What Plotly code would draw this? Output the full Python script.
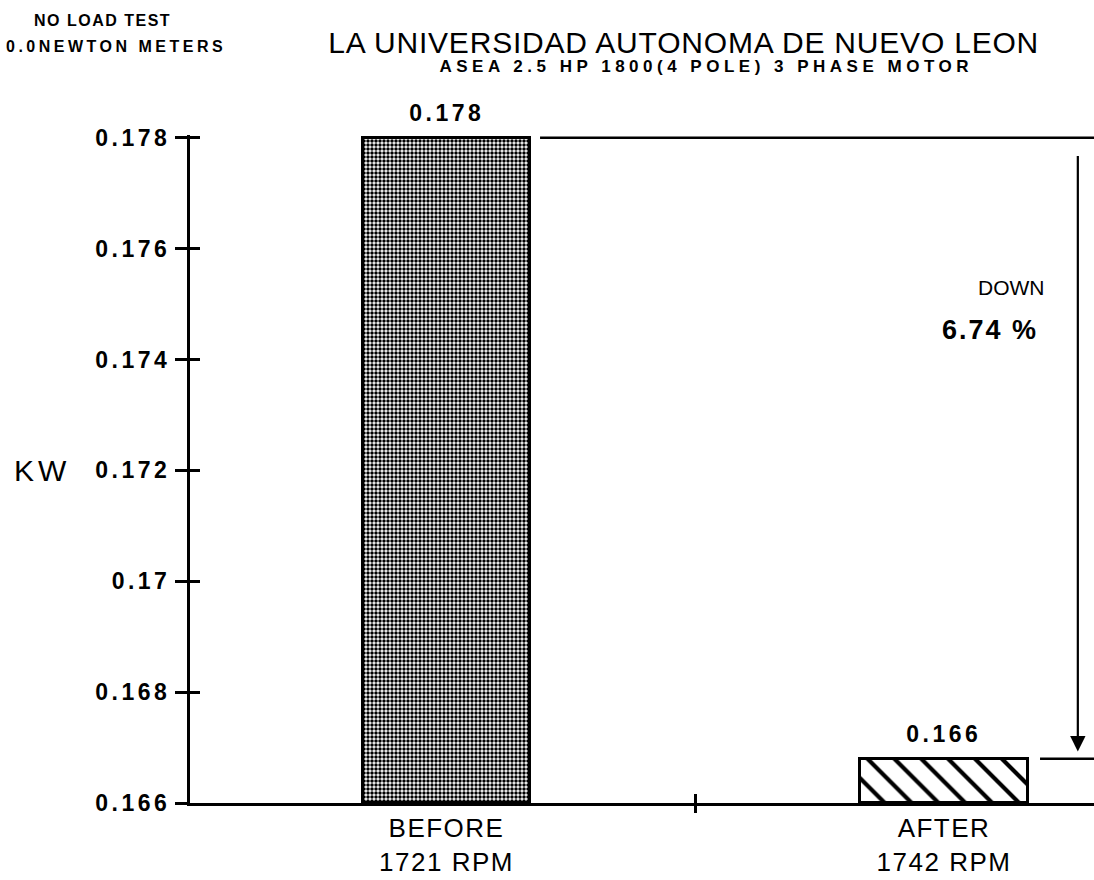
import plotly.graph_objects as go

# ---------------- data ----------------
categories = ["BEFORE", "AFTER"]
rpm_labels = ["1721 RPM", "1742 RPM"]
kw_values = [0.178, 0.1668]
value_labels = ["0.178", "0.166"]
y_ticks = [0.166, 0.168, 0.170, 0.172, 0.174, 0.176, 0.178]
y_tick_labels = ["0.166", "0.168", "0.17", "0.172", "0.174", "0.176", "0.178"]
change_words = ["DOWN", "6.74 %"]
title_text = "LA UNIVERSIDAD AUTONOMA DE NUEVO LEON"
subtitle_text = "ASEA 2.5 HP 1800(4 POLE) 3 PHASE MOTOR"
corner_texts = ["NO LOAD TEST", "0.0NEWTON METERS"]
y_axis_title = "KW"

# ---------------- layout geometry ----------------
W, H = 1094, 880
ML, MR, MT, MB = 190, 0, 135, 77
PW, PH = W - ML - MR, H - MT - MB
x_pos = [0, 1]
bar_w = 0.336
x_range = [-0.5156, 1.3015]
y_range = [0.166, 0.17805]
FONT = "Liberation Sans, Arial, Helvetica, sans-serif"


def px(xp):
    return (xp - ML) / PW


def py(yp):
    return (H - MB - yp) / PH


fig = go.Figure()

fig.add_trace(go.Bar(
    x=x_pos, y=[v - y_range[0] for v in kw_values], base=y_range[0],
    width=bar_w,
    marker=dict(
        color="white",
        line=dict(color="black", width=3),
        pattern=dict(shape=[".", "\\"], fgcolor="black", bgcolor="white",
                     size=[4, 19], solidity=[0.6, 0.22], fillmode="replace"),
    ),
    cliponaxis=False, hoverinfo="skip", showlegend=False,
))
# empty traces to activate the overlay axes (ticks crossing the axis lines)
fig.add_trace(go.Scatter(x=[], y=[], xaxis="x2", yaxis="y2", showlegend=False))
fig.add_trace(go.Scatter(x=[], y=[], xaxis="x3", yaxis="y", showlegend=False))

fig.update_layout(
    width=W, height=H,
    margin=dict(l=ML, r=MR, t=MT, b=MB, pad=0),
    paper_bgcolor="white", plot_bgcolor="white",
    font=dict(family=FONT, color="black"),
    bargap=0,
    xaxis=dict(range=x_range, tickvals=x_pos,
               ticktext=[f"{c}<br>{r}" for c, r in zip(categories, rpm_labels)],
               ticks="", showline=True, linewidth=3, linecolor="black",
               showgrid=False, zeroline=False, fixedrange=True,
               tickfont=dict(size=26, family=FONT, color="black")),
    xaxis2=dict(range=x_range, overlaying="x", anchor="y", side="bottom",
                tickvals=[sum(x_pos) / 2], ticks="inside", ticklen=9, tickwidth=2.5,
                tickcolor="black", showticklabels=False, showline=False,
                showgrid=False, zeroline=False, fixedrange=True),
    xaxis3=dict(range=x_range, overlaying="x", anchor="y", side="bottom",
                tickvals=[sum(x_pos) / 2], ticks="outside", ticklen=9, tickwidth=2.5,
                tickcolor="black", showticklabels=False, showline=False,
                showgrid=False, zeroline=False, fixedrange=True),
    yaxis=dict(range=y_range, tickvals=y_ticks, ticktext=y_tick_labels,
               ticks="outside", ticklen=12, tickwidth=2.5, tickcolor="black",
               showline=True, linewidth=3, linecolor="black",
               showgrid=False, zeroline=False, fixedrange=True,
               tickfont=dict(size=23, family=FONT, color="black", weight="bold")),
    yaxis2=dict(range=y_range, overlaying="y", anchor="x", side="left",
                tickvals=y_ticks, ticks="inside", ticklen=10, tickwidth=2.5,
                tickcolor="black", showticklabels=False, showline=False,
                showgrid=False, zeroline=False, fixedrange=True),
)

# reference lines at the two bar levels
fig.add_shape(type="line", xref="x", yref="y",
              x0=x_pos[0] + bar_w / 2 + 0.02, x1=x_range[1],
              y0=kw_values[0], y1=kw_values[0],
              line=dict(color="black", width=2.5))
fig.add_shape(type="line", xref="x", yref="y",
              x0=x_pos[1] + bar_w / 2 + 0.025, x1=x_range[1],
              y0=kw_values[1], y1=kw_values[1],
              line=dict(color="black", width=2.5))

annotations = []
spacing = []

# arrow showing the drop
arrow_x = x_pos[1] + 0.269
annotations.append(dict(x=arrow_x, y=kw_values[1] + 0.00013, xref="x", yref="y",
                        ax=arrow_x, ay=kw_values[0] - 0.0003, axref="x", ayref="y",
                        text="", showarrow=True, arrowhead=2, arrowsize=1.4,
                        arrowwidth=2.2, arrowcolor="black"))
spacing.append(0)

# bar value labels
for xv, yv, lab in zip(x_pos, kw_values, value_labels):
    annotations.append(dict(x=xv, y=yv, xref="x", yref="y", text=lab,
                            showarrow=False, xanchor="center", yanchor="bottom",
                            yshift=10, font=dict(size=23, weight="bold")))
    spacing.append(3.5)


def text_at(xp, yp, text, size, weight="normal", ls=0.0):
    annotations.append(dict(x=px(xp), y=py(yp), xref="paper", yref="paper",
                            text=text, showarrow=False, xanchor="center",
                            yanchor="middle",
                            font=dict(size=size, weight=weight)))
    spacing.append(ls)


text_at(1011, 287, change_words[0], 21)
text_at(990, 330, change_words[1], 27, "bold", 2)
text_at(42, 470, y_axis_title, 30, "normal", 4)
text_at(683, 43, title_text, 30, "normal", 0.8)
text_at(706, 67, subtitle_text, 17, "bold", 4.5)
text_at(102, 20, corner_texts[0], 16, "bold", 1.5)
text_at(116, 46, corner_texts[1], 16, "bold", 3.5)

fig.update_layout(annotations=annotations)

post = """
document.body.style.margin = '0';
var gd = document.getElementById('{plot_id}');
var sp = %s;
gd.querySelectorAll('.ytick text').forEach(function(t){ t.style.letterSpacing = '3.5px'; });
gd.querySelectorAll('.xtick text').forEach(function(t){ t.style.letterSpacing = '1.5px'; });
gd.querySelectorAll('g.annotation').forEach(function(g){
  var i = parseInt(g.getAttribute('data-index'));
  if (sp[i]) { g.querySelectorAll('text').forEach(function(t){ t.style.letterSpacing = sp[i] + 'px'; }); }
});
""" % (str(spacing))

fig.write_html("out.html", post_script=post, config={"displayModeBar": False})
